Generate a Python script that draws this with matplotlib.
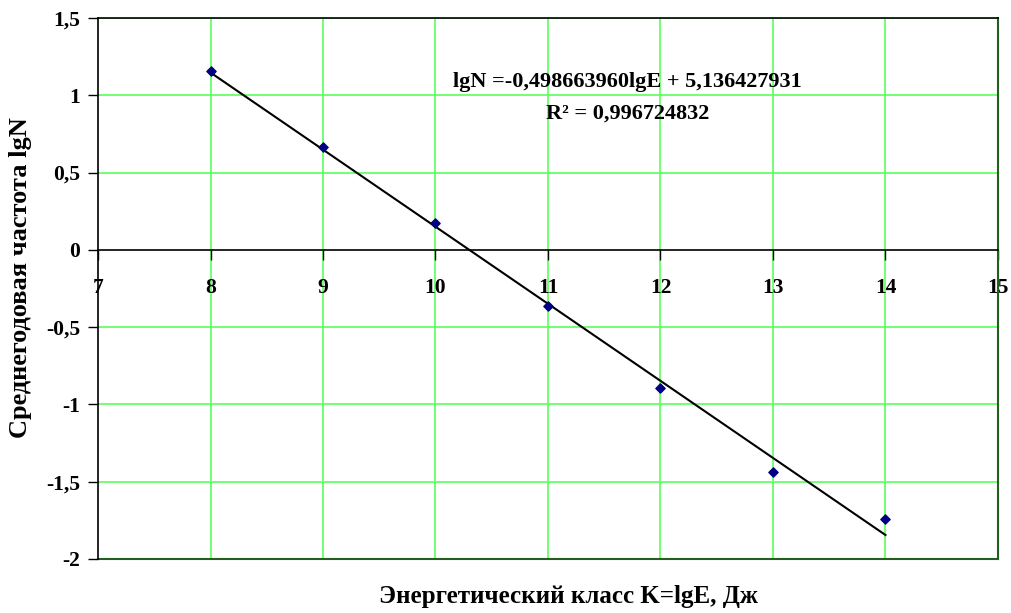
import numpy as np
import matplotlib.pyplot as plt

plt.rcParams['font.family'] = ['Liberation Serif', 'DejaVu Serif']
plt.rcParams['font.weight'] = 'bold'

# Energy class K = lgE and mean annual frequency lgN
energy_class = [8, 9, 10, 11, 12, 13, 14]
log_freq = [1.157, 0.665, 0.175, -0.362, -0.893, -1.435, -1.742]

slope = -0.498663960
intercept = 5.136427931
r_squared = 0.996724832

x_ticks = [7, 8, 9, 10, 11, 12, 13, 14, 15]
y_ticks = [-2, -1.5, -1, -0.5, 0, 0.5, 1, 1.5]

fig = plt.figure(figsize=(10.12, 6.13), dpi=100)
ax = fig.add_axes([98 / 1012, 1 - 559 / 613, 900 / 1012, 541 / 613])

grid_green = '#66ff66'
frame_green = '#1f5f1f'

ax.set_xlim(7, 15)
ax.set_ylim(-2, 1.5)
ax.set_xticks(x_ticks)
ax.set_yticks(y_ticks)
ax.set_xticklabels([str(t) for t in x_ticks])
ax.set_yticklabels([('%g' % t).replace('.', ',') for t in y_ticks])

# green grid, drawn under the data
for xv in x_ticks[1:-1]:
    ax.axvline(xv, color=grid_green, lw=1.3, zorder=0)
for yv in y_ticks[1:]:
    if yv != 0:
        ax.axhline(yv, color=grid_green, lw=1.3, zorder=0)
ax.axhline(-2, color=frame_green, lw=1.5, zorder=1, clip_on=False)

# x axis crosses at lgN = 0
ax.spines['bottom'].set_position(('data', 0))
ax.spines['bottom'].set_linewidth(1.2)
ax.spines['left'].set_linewidth(1.2)
ax.spines['top'].set_linewidth(1.2)
ax.spines['right'].set_color(frame_green)
ax.spines['right'].set_linewidth(1.5)

ax.tick_params(axis='x', direction='out', length=7, width=1, pad=13, labelsize=15.5)
ax.tick_params(axis='y', direction='out', length=7, width=1, pad=6, labelsize=15.5)
for lbl in ax.get_xticklabels() + ax.get_yticklabels():
    lbl.set_fontweight('bold')

# data points and linear trend
ax.scatter(energy_class, log_freq, marker='D', s=22, color='#000080', zorder=4)
xs = np.array([energy_class[0], energy_class[-1]])
ax.plot(xs, slope * xs + intercept, color='black', lw=1.5, zorder=3)

eq = 'lgN =%sE + %s' % (('%.9f' % slope).replace('.', ',') + 'lg',
                        ('%.9f' % intercept).replace('.', ','))
fig.text(627 / 1012, 1 - 82 / 613, eq, ha='center', va='center',
         fontsize=16, fontweight='bold')
fig.text(628 / 1012, 1 - 114 / 613, 'R² = ' + ('%.9f' % r_squared).replace('.', ','),
         ha='center', va='center', fontsize=16, fontweight='bold')

fig.text(21 / 1012, 1 - 278 / 613, 'Среднегодовая частота lgN', rotation=90,
         ha='center', va='center', fontsize=19, fontweight='bold')
fig.text(568 / 1012, 1 - 597 / 613, 'Энергетический класс K=lgE, Дж',
         ha='center', va='center', fontsize=18, fontweight='bold')

fig.savefig('out.png', dpi=100)
